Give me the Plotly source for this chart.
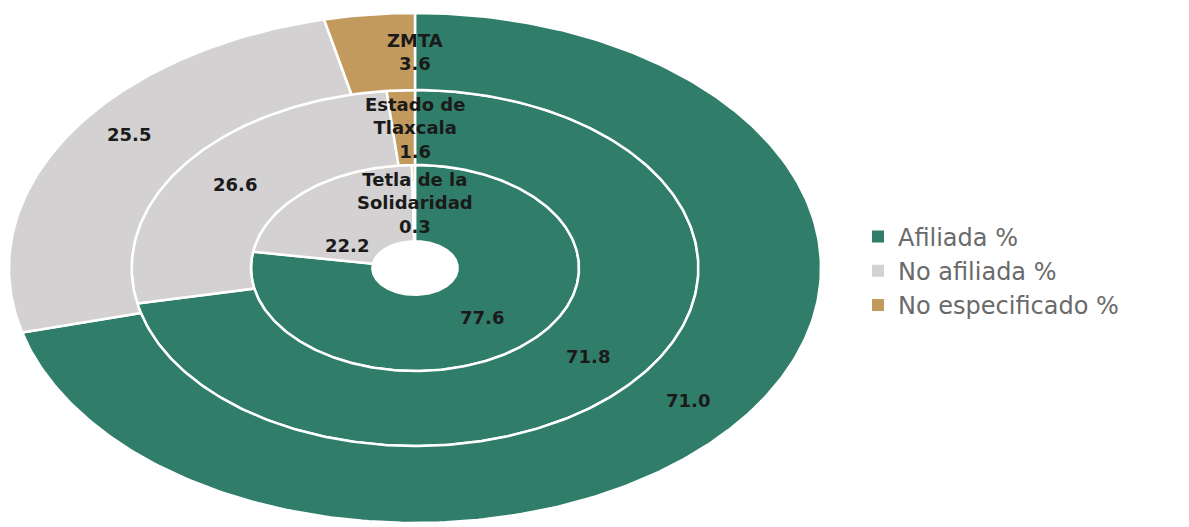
import numpy as np
import plotly.graph_objects as go

# rings from the inside out
rings = ["Tetla de la<br>Solidaridad", "Estado de<br>Tlaxcala", "ZMTA"]
series = ["Afiliada %", "No afiliada %", "No especificado %"]
afiliada = [77.6, 71.8, 71.0]
no_afiliada = [22.2, 26.6, 25.5]
no_especificado = [0.3, 1.6, 3.6]
colors = ["#307e69", "#d3d1d2", "#c39a5e"]

values = [afiliada, no_afiliada, no_especificado]

# ring edges, relative to the outer radius
edges = [0.105, 0.404, 0.698, 1.0]
W, H = 1189, 527
cx, cy = 407, 260      # centre in px (page body adds ~8px)
rx, ry = 406, 255      # outer radii in px (the chart is stretched)

fig = go.Figure()


def wedge(f0, f1, r0, r1):
    n = max(int((f1 - f0) * 400), 3)
    t = np.linspace(f0, f1, n) * 2 * np.pi
    x = np.concatenate([r1 * np.sin(t), r0 * np.sin(t[::-1])])
    y = np.concatenate([r1 * np.cos(t), r0 * np.cos(t[::-1])])
    return np.append(x, x[0]), np.append(y, y[0])


annotations = []
# manual nudges (px) for a couple of labels that sit off the centre of their slice
nudge = {(0, 1): (0, -26), (2, 1): (9, 21)}

for i, ring in enumerate(rings):
    total = sum(v[i] for v in values)
    r0, r1 = edges[i], edges[i + 1]
    rm = (r0 + r1) / 2
    start = 0.0
    for j, s in enumerate(series):
        frac = values[j][i] / total
        x, y = wedge(start, start + frac, r0, r1)
        fig.add_trace(go.Scatter(
            x=x, y=y, mode="lines", fill="toself", fillcolor=colors[j],
            line=dict(color="white", width=2.5), hoverinfo="skip",
            showlegend=False))
        if j == 2:
            text = f"{ring}<br>{values[j][i]:.1f}"
            mid = 0.0
        else:
            text = f"{values[j][i]:.1f}"
            mid = start + frac / 2
        dx, dy = nudge.get((i, j), (0, 0))
        annotations.append(dict(
            x=rm * np.sin(2 * np.pi * mid), y=rm * np.cos(2 * np.pi * mid),
            text=text, showarrow=False, xshift=dx, yshift=dy,
            font=dict(family="DejaVu Sans", size=18, color="#1a1a1a", weight="bold")))
        start += frac

for s, c in zip(series, colors):
    fig.add_trace(go.Scatter(
        x=[None], y=[None], mode="markers", name=s,
        marker=dict(symbol="square", size=11, color=c)))

fig.update_layout(
    width=W, height=H,
    margin=dict(l=0, r=0, t=0, b=0),
    plot_bgcolor="white", paper_bgcolor="white",
    xaxis=dict(range=[-cx / rx, (W - cx) / rx], visible=False, fixedrange=True),
    yaxis=dict(range=[-(H - cy) / ry, cy / ry], visible=False, fixedrange=True),
    annotations=annotations,
    legend=dict(x=850 / W, xanchor="left", y=1 - 263 / H, yanchor="middle",
                font=dict(family="DejaVu Sans", size=24, color="#6a6a6a"),
                bgcolor="rgba(0,0,0,0)", itemsizing="constant"),
)

fig.write_html("out.html")
